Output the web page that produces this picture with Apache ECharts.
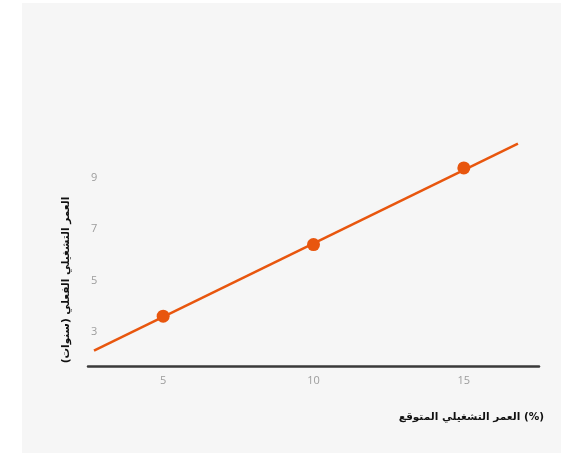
<!DOCTYPE html>
<html>
<head>
<meta charset="utf-8">
<script src="https://cdn.jsdelivr.net/npm/echarts@6/dist/echarts.min.js"></script>
<style>
html,body{margin:0;padding:0;background:#ffffff;}
#c{width:561px;height:453px;}
</style>
</head>
<body>
<div id="c"></div>
<script>
// Data
var xValues = [5, 10, 15];
var yValues = [3.6, 6.4, 9.4];
var trendX = [2.7, 16.8];
var trendY = [2.25, 10.35];
var xTickLabels = [5, 10, 15];
var yTickLabels = [3, 5, 7, 9];
var xAxisName = 'العمر التشغيلي المتوقع (%)';
var yAxisName = 'العمر التشغيلي الفعلي (سنوات)\u200F';

function inList(list, v) {
  for (var i = 0; i < list.length; i++) {
    if (Math.abs(list[i] - v) < 1e-6) return true;
  }
  return false;
}

var chart = echarts.init(document.getElementById('c'), null, {renderer: 'canvas'});
var orange = '#E8560E';
var option = {
  backgroundColor: '#ffffff',
  animation: false,
  graphic: [{
    type: 'rect', z: -10, silent: true,
    shape: {x: 22, y: 3, width: 539, height: 450},
    style: {fill: '#f6f6f6'}
  }, {
    type: 'text', silent: true,
    rotation: Math.PI / 2,
    x: 66, y: 280,
    style: {
      text: yAxisName,
      fill: '#111111',
      font: 'bold 10.5px "DejaVu Sans"',
      align: 'center',
      verticalAlign: 'middle'
    }
  }],
  grid: {left: 88, right: 22, top: 127, bottom: 87, containLabel: false},
  xAxis: {
    type: 'value',
    min: 2.5, max: 17.5, interval: 2.5,
    axisLine: {show: true, lineStyle: {color: '#3a3a3a', width: 2.5}},
    axisTick: {show: false},
    splitLine: {show: false},
    axisLabel: {
      color: '#9c9c9c', fontSize: 11, margin: 9, fontFamily: '"Open Sans", sans-serif',
      showMinLabel: true, showMaxLabel: true,
      formatter: function (v) { return inList(xTickLabels, v) ? String(Math.round(v)) : ''; }
    },
    name: xAxisName,
    nameLocation: 'end',
    nameGap: 5,
    nameTextStyle: {
      color: '#111111', fontSize: 10.5, fontWeight: 'bold', fontFamily: '"DejaVu Sans"',
      align: 'right', verticalAlign: 'top', padding: [46, 0, 0, 0]
    }
  },
  yAxis: {
    type: 'value',
    min: 1.65, max: 11, interval: 0.05,
    axisLine: {show: false},
    axisTick: {show: false},
    splitLine: {show: false},
    axisLabel: {
      inside: true, margin: 3,
      color: '#9c9c9c', fontSize: 11, fontFamily: '"Open Sans", sans-serif',
      formatter: function (v) { return inList(yTickLabels, v) ? String(Math.round(v)) : ''; }
    }
  },
  series: [{
    type: 'line',
    data: trendX.map(function (x, i) { return [x, trendY[i]]; }),
    showSymbol: false,
    symbol: 'none',
    lineStyle: {color: orange, width: 2.5},
    silent: true,
    z: 2
  }, {
    type: 'scatter',
    data: xValues.map(function (x, i) { return [x, yValues[i]]; }),
    symbolSize: 13,
    itemStyle: {color: orange, opacity: 1},
    z: 3
  }]
};
chart.setOption(option);
</script>
</body>
</html>
